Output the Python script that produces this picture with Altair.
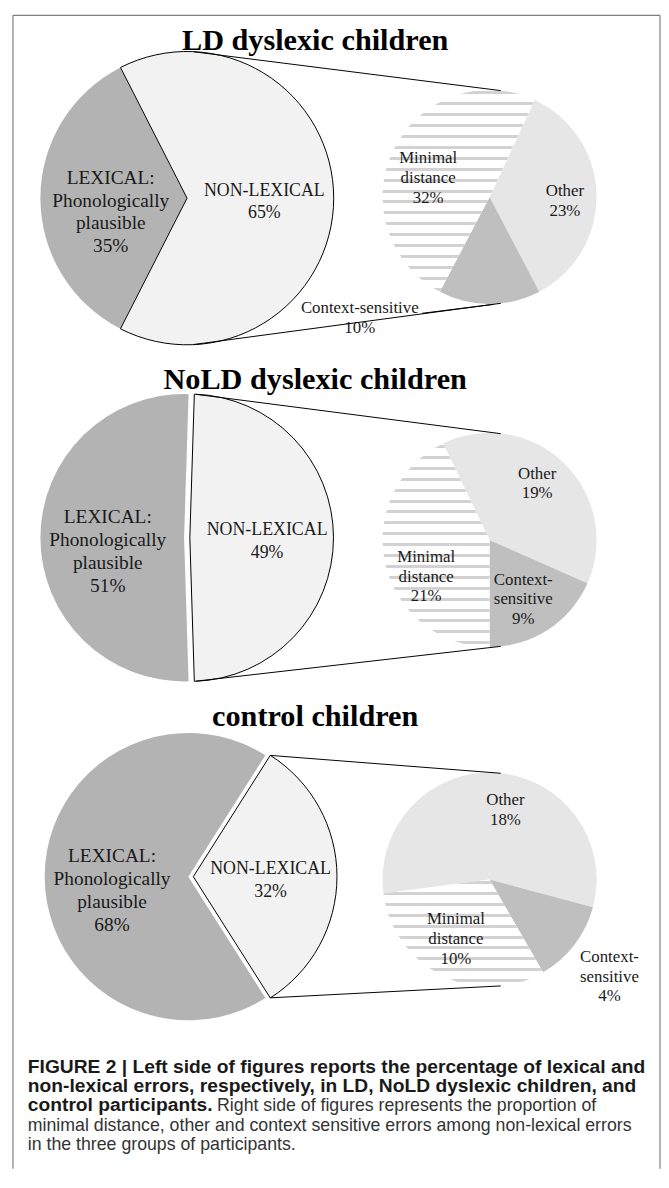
import math
import altair as alt
import pandas as pd

# ---------------- data ----------------
groups = ["LD dyslexic children", "NoLD dyslexic children", "control children"]
lexical = [35, 51, 68]
non_lexical = [65, 49, 32]
minimal_distance = [32, 21, 10]
other = [23, 19, 18]
context_sensitive = [10, 9, 4]

lexical_label = "LEXICAL:\nPhonologically\nplausible"
non_lexical_label = "NON-LEXICAL"
minimal_label = "Minimal\ndistance"
other_label = "Other"
context_labels = ["Context-sensitive", "Context-\nsensitive", "Context-\nsensitive"]

caption_bold = [
    "FIGURE 2 | Left side of figures reports the percentage of lexical and",
    "non-lexical errors, respectively, in LD, NoLD dyslexic children, and",
    "control participants.",
]
caption_regular = [
    "Right side of figures represents the proportion of",
    "minimal distance, other and context sensitive errors among non-lexical errors",
    "in the three groups of participants.",
]

# ---------------- layout (page pixel frame) ----------------
X0, X1 = 8, 667
Y0, Y1 = 8, 1174
W, H = X1 - X0, Y1 - Y0

title_x = 318
title_y = [45, 387, 728]
big_cy = [194.7, 537.7, 880.0]
big_r = [148, 145, 145]
lex_cx = [188.7, 185.7, 190.0]
nl_cx = [188.7, 191.5, 195.0]
small_cx = 494
small_cy = [193.5, 540.0, 883.0]
small_r = 108
ctx_end_deg = [207.7, 180.0, 150.0]

BIG_LH, SMALL_LH = 23, 20
lex_off = (-77, 14)
nl_off = (78, 4)
small_off = {
    (0, "Minimal"): (-62, -19), (0, "Other"): (76, 4), (0, "Context"): (-131, 122),
    (1, "Minimal"): (-64, 37), (1, "Other"): (48, -57), (1, "Context"): (34, 60),
    (2, "Minimal"): (-34, 60), (2, "Other"): (16, -70), (2, "Context"): (121, 98),
}

FILL_LEX = "#b3b3b3"
FILL_NL = "#f2f2f2"
FILL_OTHER = "#e6e6e6"
FILL_CTX = "#bfbfbf"
SERIF = "Liberation Serif"
SANS = "Liberation Sans"


def first_line_y(center_y, label, lh):
    n = label.count("\n") + 2  # label lines + the value line
    return center_y - (n - 1) * lh / 2.0


# ---------------- tables ----------------
rows = []
conn = []
for g in range(3):
    tb = lexical[g] + non_lexical[g]
    rot_big = 0.25 - non_lexical[g] / tb / 2
    rows.append(dict(group=g, pie="big", pid=f"b{g}", category="Non-lexical", order=0,
                     value=non_lexical[g], rot=rot_big, cx=nl_cx[g], cy=big_cy[g], r=big_r[g],
                     label=non_lexical_label, lx=nl_cx[g] + nl_off[0],
                     ly=first_line_y(big_cy[g] + nl_off[1], non_lexical_label, BIG_LH)))
    rows.append(dict(group=g, pie="big", pid=f"b{g}", category="Lexical", order=1,
                     value=lexical[g], rot=rot_big, cx=lex_cx[g], cy=big_cy[g], r=big_r[g],
                     label=lexical_label, lx=lex_cx[g] + lex_off[0],
                     ly=first_line_y(big_cy[g] + lex_off[1], lexical_label, BIG_LH)))
    rot_small = ctx_end_deg[g] / 360.0 - 1.0
    for k, (cat, val, lab) in enumerate([("Minimal", minimal_distance[g], minimal_label),
                                         ("Other", other[g], other_label),
                                         ("Context", context_sensitive[g], context_labels[g])]):
        dx, dy = small_off[(g, cat)]
        rows.append(dict(group=g, pie="small", pid=f"s{g}", category=cat, order=k,
                         value=val, rot=rot_small, cx=small_cx, cy=small_cy[g], r=small_r,
                         label=lab, lx=small_cx + dx,
                         ly=first_line_y(small_cy[g] + dy, lab, SMALL_LH)))
    # connector lines from the non-lexical slice to the secondary pie
    half = 180.0 * non_lexical[g] / tb
    a = math.radians(min(half, 87.5))
    b = math.radians(84)
    for s in (-1, 1):
        conn.append(dict(x=nl_cx[g] + big_r[g] * math.cos(a), y=big_cy[g] + s * big_r[g] * math.sin(a),
                         x2=small_cx + small_r * math.cos(b), y2=small_cy[g] + s * small_r * math.sin(b)))
# leader line of the LD "Context-sensitive" label
conn.append(dict(x=426, y=311, x2=498, y2=302))

df = pd.DataFrame(rows)
conn_df = pd.DataFrame(conn)
title_df = pd.DataFrame(dict(text=groups, x=[title_x] * 3, y=title_y))

cap_y0, cap_dy = 1078, 19.5
bold_df = pd.DataFrame(dict(text=caption_bold, x=[28] * 3, y=[cap_y0 + i * cap_dy for i in range(3)]))
reg_df = pd.DataFrame(dict(text=caption_regular, x=[219, 28, 28],
                           y=[cap_y0 + i * cap_dy for i in range(2, 5)]))

# ---------------- scales ----------------
xs = alt.Scale(domain=[X0, X1])
ys = alt.Scale(domain=[Y0, Y1], reverse=True)
ts = alt.Scale(domain=[0, 1], range=[0, 2 * math.pi])
rs = alt.Scale(type="linear", domain=[0, 200], range=[0, 200])


def arc_enc():
    return dict(
        x=alt.X("cx:Q", scale=xs, axis=None),
        y=alt.Y("cy:Q", scale=ys, axis=None),
        theta=alt.Theta("t0:Q", scale=ts, stack=False),
        theta2=alt.Theta2("t1:Q"),
        radius=alt.Radius("r:Q", scale=rs),
    )


def text_enc():
    return dict(x=alt.X("lx:Q", scale=xs, axis=None), y=alt.Y("ly:Q", scale=ys, axis=None), text="txt:N")


def stripe_gradient(h, period=11.0, band=3.0, ink="#d2d2d2", paper="#ffffff"):
    stops = [alt.GradientStop(color=paper, offset=0)]
    y = 1.5
    while y + band < h:
        a, b = y / h, (y + band) / h
        stops += [alt.GradientStop(color=paper, offset=a), alt.GradientStop(color=ink, offset=a),
                  alt.GradientStop(color=ink, offset=b), alt.GradientStop(color=paper, offset=b)]
        y += period
    stops.append(alt.GradientStop(color=paper, offset=1))
    return alt.LinearGradient(gradient="linear", stops=stops, x1=0, x2=0, y1=0, y2=1)


def wedge_height(cy, r, t0, t1, n=400):
    ys_ = [cy]
    for i in range(n + 1):
        t = t0 + (t1 - t0) * i / n
        ys_.append(cy - r * math.cos(2 * math.pi * t))
    return max(ys_) - min(ys_)


base = alt.Chart()

pie_layers = [
    base.transform_filter("datum.category == 'Lexical'").mark_arc(fill=FILL_LEX, strokeWidth=0).encode(**arc_enc()),
    base.transform_filter("datum.category == 'Non-lexical'").mark_arc(fill=FILL_NL, stroke="black", strokeWidth=1).encode(**arc_enc()),
    base.transform_filter("datum.category == 'Other'").mark_arc(fill=FILL_OTHER, strokeWidth=0).encode(**arc_enc()),
    base.transform_filter("datum.category == 'Context'").mark_arc(fill=FILL_CTX, strokeWidth=0).encode(**arc_enc()),
]
for g in range(3):
    ts_tot = minimal_distance[g] + other[g] + context_sensitive[g]
    t0 = ctx_end_deg[g] / 360.0 - 1.0
    t1 = t0 + minimal_distance[g] / ts_tot
    hgt = wedge_height(small_cy[g], small_r, t0, t1)
    pie_layers.append(
        base.transform_filter(f"datum.category == 'Minimal' && datum.group == {g}")
        .mark_arc(fill=stripe_gradient(hgt), strokeWidth=0)
        .encode(**arc_enc())
    )

pie_layers.append(
    base.transform_filter("datum.category == 'Lexical'")
    .mark_text(font=SERIF, fontSize=19.5, lineHeight=BIG_LH, lineBreak="\n", align="center", baseline="middle", color="#1a1a1a")
    .encode(**text_enc())
)
pie_layers.append(
    base.transform_filter("datum.category == 'Non-lexical'")
    .mark_text(font=SERIF, fontSize=18, lineHeight=BIG_LH, lineBreak="\n", align="center", baseline="middle", color="#1a1a1a")
    .encode(**text_enc())
)
pie_layers.append(
    base.transform_filter("datum.pie == 'small'")
    .mark_text(font=SERIF, fontSize=17, lineHeight=SMALL_LH, lineBreak="\n", align="center", baseline="middle", color="#1a1a1a")
    .encode(**text_enc())
)

pies = alt.layer(*pie_layers, data=df).transform_joinaggregate(
    total="sum(value)", groupby=["pid"]
).transform_window(
    cum="sum(value)", groupby=["pid"], sort=[alt.SortField("order", order="ascending")]
).transform_calculate(
    t1="datum.rot + datum.cum / datum.total",
    t0="datum.rot + (datum.cum - datum.value) / datum.total",
    txt="datum.label + '\\n' + datum.value + '%'",
)

connectors = alt.Chart(conn_df).mark_rule(color="black", strokeWidth=1).encode(
    x=alt.X("x:Q", scale=xs, axis=None), y=alt.Y("y:Q", scale=ys, axis=None),
    x2="x2:Q", y2="y2:Q",
)

titles = alt.Chart(title_df).mark_text(
    font=SERIF, fontSize=30.5, fontWeight="bold", align="center", baseline="alphabetic", color="black"
).encode(x=alt.X("x:Q", scale=xs, axis=None), y=alt.Y("y:Q", scale=ys, axis=None), text="text:N")

cap_bold = alt.Chart(bold_df).mark_text(
    font=SANS, fontSize=19.4, fontWeight="bold", align="left", baseline="alphabetic", color="#1a1a1a"
).encode(x=alt.X("x:Q", scale=xs, axis=None), y=alt.Y("y:Q", scale=ys, axis=None), text="text:N")

cap_reg = alt.Chart(reg_df).mark_text(
    font=SANS, fontSize=17.9, align="left", baseline="alphabetic", color="#333333"
).encode(x=alt.X("x:Q", scale=xs, axis=None), y=alt.Y("y:Q", scale=ys, axis=None), text="text:N")

bx0, by0, bx1 = 13 - X0, 10 - Y0, 666 - X0
border = [
    alt.Chart().mark_rule(color="#808080", strokeWidth=1.2).encode(x=alt.value(bx0), y=alt.value(by0), y2=alt.value(H)),
    alt.Chart().mark_rule(color="#808080", strokeWidth=1.2).encode(x=alt.value(bx1), y=alt.value(by0), y2=alt.value(H)),
    alt.Chart().mark_rule(color="#808080", strokeWidth=1.2).encode(x=alt.value(bx0), x2=alt.value(bx1), y=alt.value(by0)),
]

chart = alt.layer(pies, connectors, titles, cap_bold, cap_reg, *border).properties(
    width=W, height=H, padding=0,
    autosize=alt.AutoSizeParams(type="fit", contains="padding"),
).configure_view(strokeWidth=0)

chart.save("out.html", embed_options={"renderer": "svg", "actions": False})
